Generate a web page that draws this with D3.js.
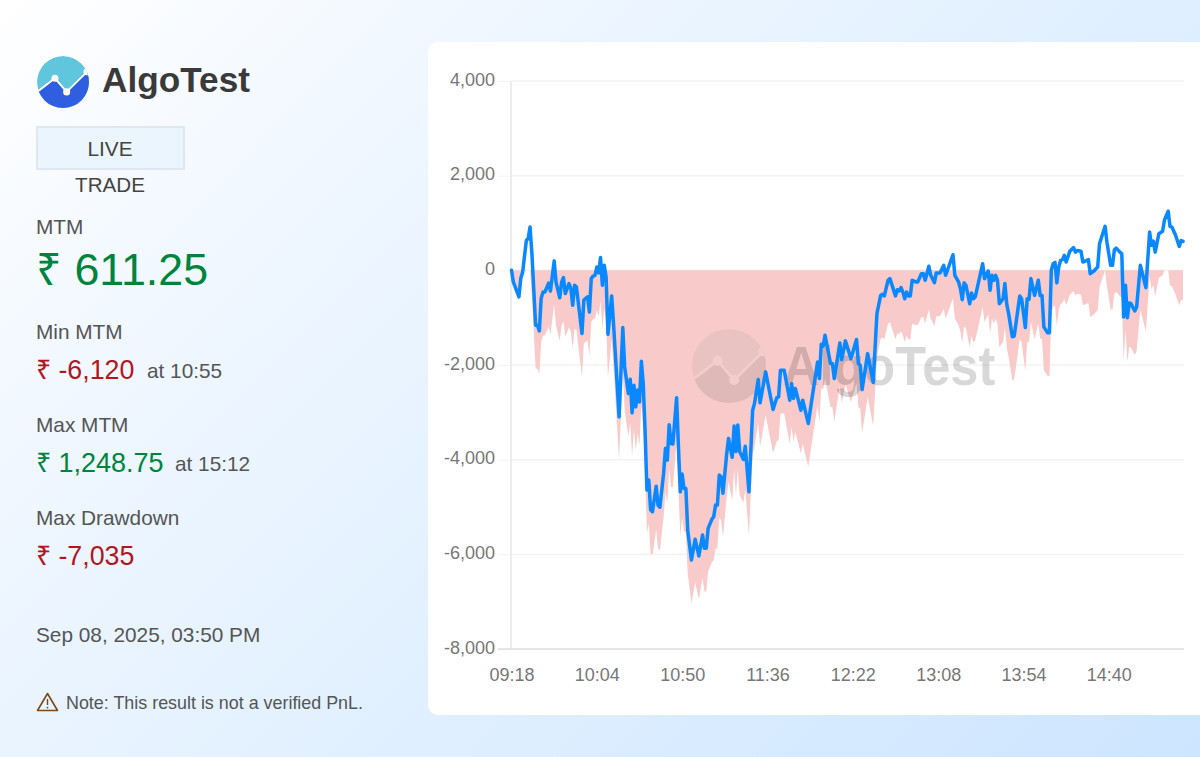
<!DOCTYPE html>
<html>
<head>
<meta charset="utf-8">
<script src="https://cdn.jsdelivr.net/npm/d3@7"></script>
<style>
html, body { margin:0; padding:0; width:1200px; height:757px; overflow:hidden; }
body { background:linear-gradient(135deg,#ffffff 0%,#f0f7ff 25%,#dfefff 60%,#cde5ff 100%); font-family:"Liberation Sans",Arial,sans-serif; }
svg { display:block; }
text { font-family:"Liberation Sans",Arial,sans-serif; }
.axis .domain { display:none; }
.axis text { font-size:18px; fill:#777; }
</style>
</head>
<body>
<script>
// minutes after 09:18
var minutes = [0,1,4,5,6,8,9,10,11,13,14,15,16,17,18,20,21,23,24,26,27,28,29,31,32,33,34,35,38,39,41,42,43,44,45,46,47,48,49,50,51,52,54,55,58,60,61,63,64,65,66,67,68,69,70,71,72,73,74,75,76,78,79,80,82,83,84,85,86,87,89,90,91,92,93,94,95,97,99,101,103,104,105,106,108,109,110,111,112,113,114,116,117,119,120,121,122,123,125,126,128,130,131,133,134,137,141,143,144,145,147,150,151,152,153,156,157,160,162,165,166,167,168,169,172,173,174,177,178,180,183,186,187,188,189,192,195,197,199,200,201,203,204,207,208,209,210,211,212,213,214,215,216,218,219,221,222,223,225,226,228,229,231,233,234,235,238,239,241,242,243,244,245,247,248,249,250,254,255,257,258,259,260,261,262,263,265,266,267,268,270,271,274,275,277,278,279,280,282,284,285,286,287,289,290,291,292,293,294,295,296,297,298,299,301,303,304,305,307,308,311,312,314,316,317,320,321,323,324,325,326,328,329,330,331,332,333,334,336,337,339,342,344,345,346,347,349,351,352,354,355,356,358,360,361,362];
var mtm = [0,-250,-560,-170,-40,630,675,915,360,-1160,-1160,-1280,-590,-460,-460,-270,-440,200,-250,-580,-250,-155,-490,-280,-385,-740,-315,-350,-1335,-630,-560,-880,-175,-120,-105,70,-55,270,-315,105,-140,-1350,-540,-1125,-3095,-1210,-2040,-2600,-2300,-3010,-2430,-2885,-2530,-2780,-1920,-2385,-3375,-4640,-4430,-5060,-5100,-4560,-4960,-5005,-4290,-3760,-4010,-3260,-3660,-3670,-2690,-3730,-4680,-4305,-4610,-4610,-5490,-6120,-5680,-6035,-5590,-5870,-5870,-5450,-5260,-5205,-4960,-4960,-4325,-4360,-4710,-3880,-3550,-3950,-3290,-3830,-3270,-3830,-3995,-3715,-4680,-2955,-2815,-2305,-2800,-2145,-2940,-2690,-2675,-2110,-2110,-2745,-2390,-2705,-2495,-2955,-2745,-3235,-2705,-1935,-2285,-1560,-1600,-1370,-1970,-1970,-2285,-1535,-1885,-1490,-1865,-1460,-1970,-2005,-2520,-1760,-2370,-915,-530,-505,-540,-210,-175,-540,-410,-435,-365,-460,-600,-460,-540,-540,-210,-245,-245,-70,-70,-210,85,-105,-260,-55,-55,105,-105,0,330,-105,-245,-385,-620,-265,-315,-705,-480,-600,-560,140,-175,-15,-420,-105,-210,-105,-210,-705,-600,-280,-720,-915,-1405,-1390,-540,-600,-1210,-600,-610,-175,-530,-210,-530,-530,-1195,-1320,-1320,0,140,170,-265,70,210,225,315,175,405,480,385,420,405,175,225,-70,-15,70,560,930,595,105,105,435,470,385,350,-985,-315,-1000,-690,-705,-860,-775,105,-365,810,530,620,385,775,825,1060,1248.75,930,915,740,505,630,611.25];
var drawdown = [0,-250,-560,-170,-40,0,0,0,-555,-2075,-2075,-2195,-1505,-1375,-1375,-1185,-1355,-715,-1165,-1495,-1165,-1070,-1405,-1195,-1300,-1655,-1230,-1265,-2250,-1545,-1475,-1795,-1090,-1035,-1020,-845,-970,-645,-1230,-810,-1055,-2265,-1455,-2040,-4010,-2125,-2955,-3515,-3215,-3925,-3345,-3800,-3445,-3695,-2835,-3300,-4290,-5555,-5345,-5975,-6015,-5475,-5875,-5920,-5205,-4675,-4925,-4175,-4575,-4585,-3605,-4645,-5595,-5220,-5525,-5525,-6405,-7035,-6595,-6950,-6505,-6785,-6785,-6365,-6175,-6120,-5875,-5875,-5240,-5275,-5625,-4795,-4465,-4865,-4205,-4745,-4185,-4745,-4910,-4630,-5595,-3870,-3730,-3220,-3715,-3060,-3855,-3605,-3590,-3025,-3025,-3660,-3305,-3620,-3410,-3870,-3660,-4150,-3620,-2850,-3200,-2475,-2515,-2285,-2885,-2885,-3200,-2450,-2800,-2405,-2780,-2375,-2885,-2920,-3435,-2675,-3285,-1830,-1445,-1420,-1455,-1125,-1090,-1455,-1325,-1350,-1280,-1375,-1515,-1375,-1455,-1455,-1125,-1160,-1160,-985,-985,-1125,-830,-1020,-1175,-970,-970,-810,-1020,-915,-585,-1020,-1160,-1300,-1535,-1180,-1230,-1620,-1395,-1515,-1475,-775,-1090,-930,-1335,-1020,-1125,-1020,-1125,-1620,-1515,-1195,-1635,-1830,-2320,-2305,-1455,-1515,-2125,-1515,-1525,-1090,-1445,-1125,-1445,-1445,-2110,-2235,-2235,-915,-775,-745,-1180,-845,-705,-690,-600,-740,-510,-435,-530,-495,-510,-740,-690,-985,-930,-845,-355,0,-335,-825,-825,-495,-460,-545,-580,-1915,-1245,-1930,-1620,-1635,-1790,-1705,-825,-1295,-120,-400,-310,-545,-155,-105,0,0,-318,-333,-508,-743,-618,-637];

var xTickMinutes = [0,46,92,138,184,230,276,322];
var xTickLabels = ["09:18","10:04","10:50","11:36","12:22","13:08","13:54","14:40"];
var yTicks = [4000,2000,0,-2000,-4000,-6000,-8000];

var svg = d3.select("body").append("svg").attr("width",1200).attr("height",757);

// card
svg.append("rect").attr("x",428).attr("y",42).attr("width",800).attr("height",673).attr("rx",10).attr("fill","#fff");

// left panel
function txt(x,y,s,size,color,extra){
	var t = svg.append("text").attr("x",x).attr("y",y).attr("font-size",size).attr("fill",color).text(s);
	if(extra && extra.anchor) t.attr("text-anchor",extra.anchor);
	if(extra && extra.weight) t.attr("font-weight",extra.weight);
	return t;
}

function logo(g, cx, cy, r, top, bottom, lineCol, id){
	// line nodes relative to the circle, in units of radius
	var nodes = [[-1.1,0.46],[-0.31,-0.14],[0.14,0.38],[0.92,-0.39],[1.1,-0.55]];
	g.append("clipPath").attr("id",id).append("circle").attr("cx",cx).attr("cy",cy).attr("r",r);
	var inner = g.append("g").attr("clip-path","url(#"+id+")");
	inner.append("circle").attr("cx",cx).attr("cy",cy).attr("r",r).attr("fill",top);
	var pts = nodes.map(function(n){ return [cx+n[0]*r, cy+n[1]*r]; });
	inner.append("path")
		.attr("d", d3.line()(pts.concat([[cx+1.1*r,cy+1.1*r],[cx-1.1*r,cy+1.1*r]]))+"Z")
		.attr("fill",bottom);
	inner.append("path").attr("d",d3.line()(pts)).attr("fill","none").attr("stroke",lineCol).attr("stroke-width",r*0.07);
	inner.selectAll("circle.node").data(pts.slice(0,4)).enter().append("circle").attr("class","node")
		.attr("cx",function(d){return d[0];}).attr("cy",function(d){return d[1];}).attr("r",r*0.135).attr("fill",lineCol);
}

logo(svg.append("g"),63,82,26,"#5fc6de","#2f5fe0","#fff","logoClip");
txt(102,92,"AlgoTest",35.2,"#3a3a3a",{weight:"bold"});

svg.append("rect").attr("x",37).attr("y",127).attr("width",147).attr("height",42)
	.attr("fill","#ebf5fe").attr("stroke","#dfe8f0").attr("stroke-width",2);
txt(110,156,"LIVE",20.8,"#444",{anchor:"middle"});
txt(110,192,"TRADE",20.6,"#444",{anchor:"middle"});

txt(36,234,"MTM",20.8,"#555");
txt(36,285,"₹ 611.25",44.8,"#00843d");
txt(36,339,"Min MTM",20.8,"#555");
txt(36,379,"₹ -6,120",26.8,"#b0171f");
txt(147,378,"at 10:55",20.8,"#555");
txt(36,432,"Max MTM",20.8,"#555");
txt(36,472,"₹ 1,248.75",27,"#00843d");
txt(175,471,"at 15:12",20.8,"#555");
txt(36,525,"Max Drawdown",20.8,"#555");
txt(36,565,"₹ -7,035",26.8,"#b0171f");
txt(36,642,"Sep 08, 2025, 03:50 PM",20.8,"#555");
txt(66,709,"Note: This result is not a verified PnL.",17.9,"#555");

// warning icon
svg.append("path").attr("d","M47.5 693.5 L57.5 710.5 L37.5 710.5 Z").attr("fill","none")
	.attr("stroke","#7a4a10").attr("stroke-width",1.6).attr("stroke-linejoin","round");
svg.append("line").attr("x1",47.5).attr("x2",47.5).attr("y1",699).attr("y2",705).attr("stroke","#7a4a10").attr("stroke-width",1.4);
svg.append("circle").attr("cx",47.5).attr("cy",707.6).attr("r",0.9).attr("fill","#7a4a10");

// chart
var x = d3.scaleLinear().domain([0,362]).range([511.5,1183]);
var y = d3.scaleLinear().domain([-8000,4000]).range([649,81]);

var yAxis = svg.append("g").attr("class","axis").attr("transform","translate(511,0)")
	.call(d3.axisLeft(y).tickValues(yTicks).tickSize(13).tickPadding(3)
		.tickFormat(function(d){ return d.toLocaleString("en-US"); }));
yAxis.selectAll("line").attr("stroke","#f3f3f3");
yAxis.selectAll("text").attr("dy","4px");

// grid
svg.append("g").selectAll("line").data(yTicks.slice(0,-1)).enter().append("line")
	.attr("x1",511).attr("x2",1184)
	.attr("y1",function(d){return y(d);}).attr("y2",function(d){return y(d);})
	.attr("stroke","#f3f3f3").attr("stroke-width",1.5);

var points = minutes.map(function(m,i){ return {m:m, v:mtm[i], d:drawdown[i]}; });

svg.append("path").datum(points)
	.attr("d", d3.area().x(function(p){return x(p.m);}).y0(y(0)).y1(function(p){return y(p.d);}))
	.attr("fill","#f8caca");

// watermark over the fill
var wm = svg.append("g").attr("opacity",0.15);
logo(wm,729,366,37,"#999","#555","#ddd","wmClip");
wm.append("text").attr("transform","translate(783,385) scale(0.91,1)").attr("font-size",55.5).attr("font-weight","bold").attr("fill","#000").text("AlgoTest");

// axis lines
svg.append("line").attr("x1",511).attr("x2",511).attr("y1",81).attr("y2",649).attr("stroke","#ececec").attr("stroke-width",2);
svg.append("line").attr("x1",498).attr("x2",1184).attr("y1",649).attr("y2",649).attr("stroke","#dedede").attr("stroke-width",1.5);

var xAxis = svg.append("g").attr("class","axis").attr("transform","translate(0,649)")
	.call(d3.axisBottom(x).tickValues(xTickMinutes).tickSize(0).tickPadding(19)
		.tickFormat(function(d,i){ return xTickLabels[i]; }));

svg.append("path").datum(points)
	.attr("d", d3.line().x(function(p){return x(p.m);}).y(function(p){return y(p.v);}))
	.attr("fill","none").attr("stroke","#0a88ff").attr("stroke-width",3.5).attr("stroke-linejoin","round").attr("stroke-linecap","round");
</script>
</body>
</html>
